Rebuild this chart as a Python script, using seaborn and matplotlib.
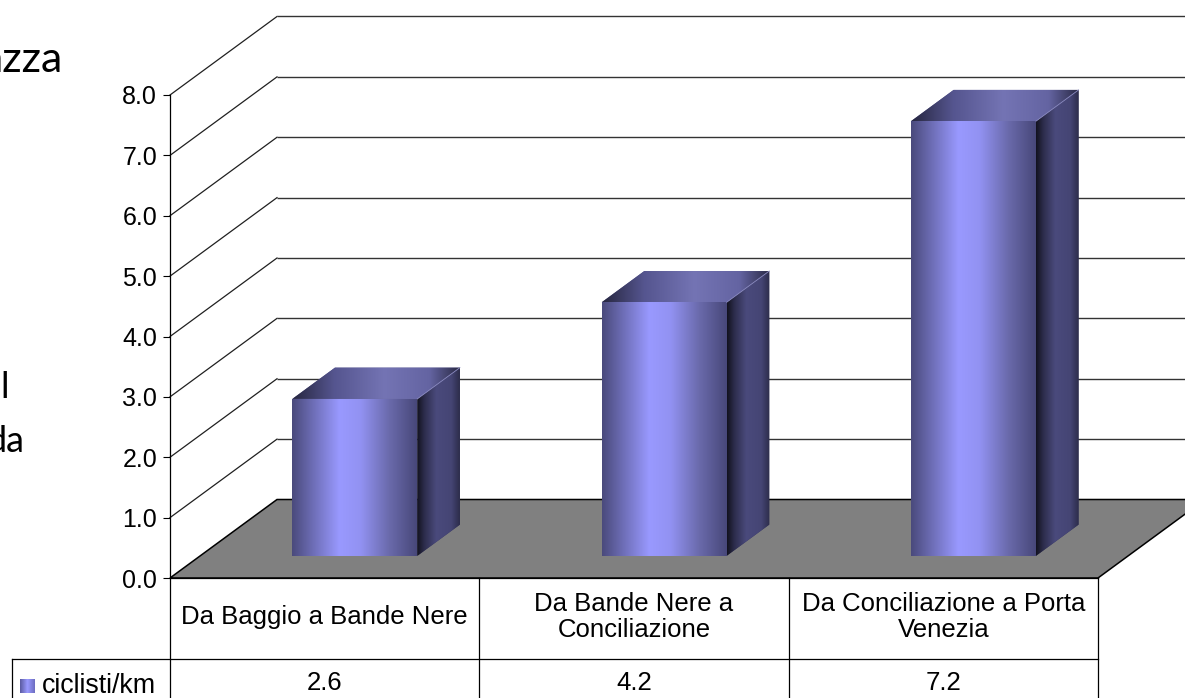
import numpy as np
import pandas as pd
import matplotlib
matplotlib.use("Agg")
import matplotlib.pyplot as plt
from matplotlib.patches import Polygon, Rectangle
from matplotlib.colors import LinearSegmentedColormap
import seaborn as sns

# ---- data -------------------------------------------------------------
categories = ["Da Baggio a Bande Nere",
              "Da Bande Nere a\nConciliazione",
              "Da Conciliazione a Porta\nVenezia"]
values = [2.6, 4.2, 7.2]
series_name = "ciclisti/km"
y_ticks = [0, 1, 2, 3, 4, 5, 6, 7, 8]
y_tick_labels = [f"{t:.1f}" for t in y_ticks]

# ---- layout (pixels) --------------------------------------------------
W, H, DPI = 1185, 698, 100
X0_PX = 170.0          # left edge of the category area
COL_PX = 309.33        # width of one category slot
Y0_PX = 578.0          # baseline (value 0) measured from the top
UNIT_PX = 60.375       # pixels per value unit
DX = 107.0 / COL_PX    # depth offset of the 3-D box, x
DY = 78.5 / UNIT_PX    # depth offset of the 3-D box, y
F0, F1 = 0.282, 0.68   # front / back depth fraction of the bars
BAR_W = 0.404

plt.rcParams["font.family"] = ["Liberation Sans", "DejaVu Sans"]
FS = 18
FS_TABLE = 18.5

fig = plt.figure(figsize=(W / DPI, H / DPI), dpi=DPI)
ax = fig.add_axes([0, 0, 1, 1])

xlim = (-0.5 - X0_PX / COL_PX, -0.5 + (W - X0_PX) / COL_PX)
ylim = (-(H - Y0_PX) / UNIT_PX, Y0_PX / UNIT_PX)


def px2x(px):
    return xlim[0] + px / COL_PX


def py2y(py):
    return (Y0_PX - py) / UNIT_PX


def gradient_cmap(stops):
    return LinearSegmentedColormap.from_list("g", stops)


front_cmap = gradient_cmap([(0.0, "#4a4a7c"), (0.15, "#6a6ab0"), (0.38, "#9999ff"),
                            (0.55, "#9292f2"), (0.78, "#6a6aab"), (1.0, "#48487a")])
side_cmap = gradient_cmap([(0.0, "#12121f"), (0.18, "#2e2e4e"), (0.45, "#4a4a7c"),
                           (0.8, "#454574"), (1.0, "#2c2c4a")])
top_cmap = gradient_cmap([(0.0, "#26263f"), (0.25, "#55558f"), (0.55, "#7474b4"),
                          (0.82, "#6464a2"), (1.0, "#2a2a45")])


def gradient_fill(patch, cmap, extent, z):
    g = cmap(np.linspace(0, 1, 256))[None, :, :3]
    im = ax.imshow(g, extent=extent, aspect="auto", interpolation="bilinear",
                   zorder=z)
    im.set_clip_path(patch)
    return im


df = pd.DataFrame({"tratto": categories, "valore": values})

# ---- bars (front faces) ------------------------------------------------
sns.barplot(data=df, x="tratto", y="valore", ax=ax, width=BAR_W,
            color="#9999ff", saturation=1, errorbar=None, zorder=5)
bars = list(ax.patches)

# ---- back wall gridlines and side wall diagonals ----------------------
for t in y_ticks:
    ax.plot([-0.5 + DX, xlim[1] + 1], [t + DY, t + DY], color="#333333",
            lw=1.0, zorder=1, solid_capstyle="butt")
    if t > 0:
        ax.plot([-0.5, -0.5 + DX], [t, t + DY], color="#202020", lw=0.9,
                zorder=1)

# ---- floor -------------------------------------------------------------
n = len(categories)
floor = Polygon([(-0.5, 0), (n - 0.5, 0), (n - 0.5 + DX, DY), (-0.5 + DX, DY)],
                closed=True, facecolor="#808080", edgecolor="black", lw=1.1,
                zorder=2)
ax.add_patch(floor)

# ---- 3-D bar faces -----------------------------------------------------
dd = F1 - F0
for bar in bars:
    x0 = bar.get_x() + F0 * DX
    w = bar.get_width()
    h = bar.get_height()
    y0 = F0 * DY
    bar.set_x(x0)
    bar.set_y(y0)
    bar.set_edgecolor("none")
    x1 = x0 + w
    gradient_fill(bar, front_cmap, [x0, x1, y0, y0 + h], 6)

    side = Polygon([(x1, y0), (x1 + dd * DX, y0 + dd * DY),
                    (x1 + dd * DX, y0 + dd * DY + h), (x1, y0 + h)],
                   closed=True, facecolor="#3a3a60", edgecolor="none", zorder=5)
    ax.add_patch(side)
    gradient_fill(side, side_cmap, [x1, x1 + dd * DX, y0, y0 + h + dd * DY], 6)

    top = Polygon([(x0, y0 + h), (x1, y0 + h), (x1 + dd * DX, y0 + h + dd * DY),
                   (x0 + dd * DX, y0 + h + dd * DY)],
                  closed=True, facecolor="#5a5a90", edgecolor="none", zorder=5)
    ax.add_patch(top)
    gradient_fill(top, top_cmap, [x0, x1 + dd * DX, y0 + h, y0 + h + dd * DY], 6)
    ax.plot([x1, x1 + dd * DX], [y0 + h, y0 + h + dd * DY], color="#8a8ac0",
            lw=0.6, zorder=7)

# ---- value axis --------------------------------------------------------
for s in ["top", "right", "bottom"]:
    ax.spines[s].set_visible(False)
ax.spines["left"].set_position(("data", -0.5))
ax.spines["left"].set_bounds(ylim[0], y_ticks[-1])
ax.spines["left"].set_color("black")
ax.spines["left"].set_linewidth(0.9)
ax.spines["left"].set_zorder(8)
ax.set_yticks(y_ticks, labels=y_tick_labels)
ax.tick_params(axis="y", direction="out", length=5.0, width=0.8, pad=4.3,
               labelsize=FS, colors="black")
ax.set_xticks([])
ax.set_xlabel("")
ax.set_ylabel("")

# ---- data table --------------------------------------------------------
row1 = py2y(659)
lc = dict(color="black", lw=0.9, zorder=8)
ax.plot([-0.5, n - 0.5], [0, 0], **lc)
ax.plot([px2x(12), n - 0.5], [row1, row1], **lc)
for k in range(1, n + 1):
    ax.plot([k - 0.5, k - 0.5], [0, ylim[0] - 1], **lc)
ax.plot([px2x(12.5), px2x(12.5)], [row1, ylim[0] - 1], **lc)

for i, (cat, v) in enumerate(zip(categories, values)):
    ax.text(i, row1 / 2 + 0.02, cat, ha="center", va="center",
            fontsize=FS_TABLE, linespacing=1.12, zorder=9)
    ax.text(i, py2y(683), f"{v:.1f}", ha="center", va="center",
            fontsize=FS_TABLE, zorder=9)

# legend key of the table
key = Rectangle((px2x(20), py2y(693)), (15) / COL_PX, 14 / UNIT_PX,
                facecolor="#7a7ad0", edgecolor="none", zorder=9)
ax.add_patch(key)
gradient_fill(key, gradient_cmap(["#5a5aa0", "#9a9aff", "#6c6cc0"]),
              [px2x(20), px2x(35), py2y(693), py2y(679)], 10)
ax.text(px2x(42), py2y(693), series_name, ha="left", va="baseline",
        fontsize=19.3, zorder=9)

ax.set_xlim(*xlim)
ax.set_ylim(*ylim)
ax.set_aspect("auto")

# ---- slide text partially visible behind the chart ----------------------
fig.text(63 / W, 1 - 72 / H, "azza", ha="right", va="baseline",
         fontsize=31, family=["Lato", "DejaVu Sans"])
fig.text(9 / W, 1 - 398 / H, "l", ha="right", va="baseline",
         fontsize=26, family=["Lato", "DejaVu Sans"])
fig.text(25 / W, 1 - 452 / H, "da", ha="right", va="baseline",
         fontsize=26, family=["Lato", "DejaVu Sans"])

fig.savefig("out.png", dpi=DPI)
